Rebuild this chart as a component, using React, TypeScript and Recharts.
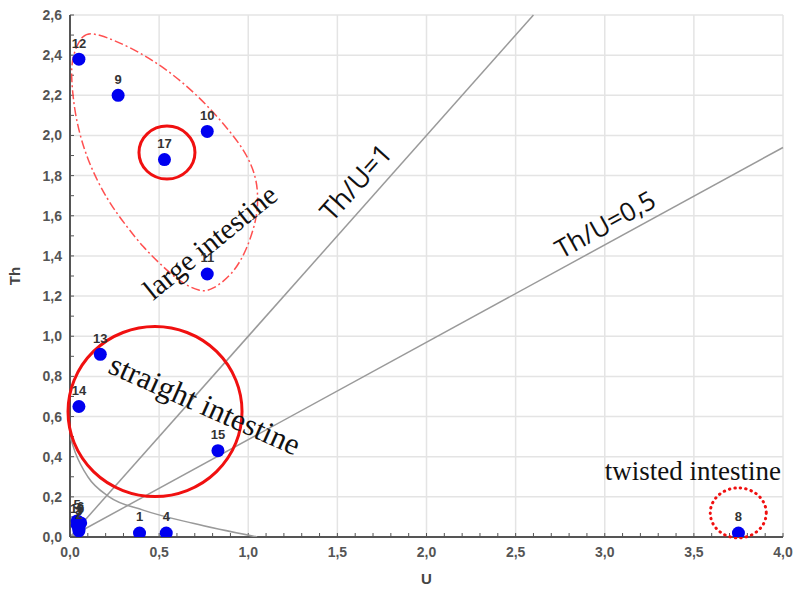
import { ScatterChart, Scatter, XAxis, YAxis, CartesianGrid, ReferenceLine, ReferenceDot, LabelList } from "recharts";

// sample numbers and their (U, Th) values
const sampleIds = ["1", "2", "3", "4", "5", "6", "7", "8", "9", "10", "11", "12", "13", "14", "15", "16", "17"];
const uValues = [0.39, 0.05, 0.05, 0.54, 0.04, 0.06, 0.05, 3.75, 0.27, 0.77, 0.77, 0.05, 0.17, 0.05, 0.83, 0.04, 0.53];
const thValues = [0.02, 0.03, 0.05, 0.02, 0.08, 0.07, 0.04, 0.02, 2.2, 2.02, 1.31, 2.38, 0.91, 0.65, 0.43, 0.06, 1.88];

// axis ticks
const majorU = [0, 0.5, 1, 1.5, 2, 2.5, 3, 3.5, 4];
const minorU = [0, 0.1, 0.2, 0.3, 0.4, 0.5, 0.6, 0.7, 0.8, 0.9, 1, 1.1, 1.2, 1.3, 1.4, 1.5, 1.6, 1.7, 1.8, 1.9, 2, 2.1, 2.2, 2.3, 2.4, 2.5, 2.6, 2.7, 2.8, 2.9, 3, 3.1, 3.2, 3.3, 3.4, 3.5, 3.6, 3.7, 3.8, 3.9, 4];
const majorTh = [0, 0.2, 0.4, 0.6, 0.8, 1, 1.2, 1.4, 1.6, 1.8, 2, 2.2, 2.4, 2.6];
const minorTh = [0, 0.1, 0.2, 0.3, 0.4, 0.5, 0.6, 0.7, 0.8, 0.9, 1, 1.1, 1.2, 1.3, 1.4, 1.5, 1.6, 1.7, 1.8, 1.9, 2, 2.1, 2.2, 2.3, 2.4, 2.5, 2.6];

// hand-drawn outline around the large intestine group
const outlineU = [0.011, 0.067, 0.151, 0.353, 0.544, 0.729, 0.88, 0.993, 1.049, 1.054, 1.049, 0.993, 0.914, 0.8, 0.729, 0.617, 0.505, 0.41, 0.32, 0.208, 0.095, 0.028, 0.006];
const outlineTh = [2.39, 2.51, 2.51, 2.435, 2.33, 2.19, 2.04, 1.91, 1.78, 1.68, 1.59, 1.43, 1.31, 1.23, 1.22, 1.27, 1.36, 1.444, 1.544, 1.678, 1.877, 2.09, 2.29];

// grey boundary curve near the origin
const curveU = [0, 0.03, 0.1, 0.22, 0.41, 0.69, 1.05];
const curveTh = [0.5, 0.42, 0.3, 0.2, 0.134, 0.068, 0];

// ratio lines
const ratioOne = [{ x: 0, y: 0 }, { x: 2.6, y: 2.6 }];
const ratioHalf = [{ x: 0, y: 0 }, { x: 4, y: 1.94 }];

const points = sampleIds.map((id, i) => ({ id, u: uValues[i], th: thValues[i] }));
const outline = outlineU.map((u, i) => ({ u, th: outlineTh[i] }));
const curve = curveU.map((u, i) => ({ u, th: curveTh[i] }));

const fmt = (v: number) => v.toFixed(1).replace(".", ",");

const tickStyle = { fill: "#555", fontSize: 14, fontWeight: "bold", fontFamily: "Liberation Sans, Arial, sans-serif" };

type Note = { text: string; u: number; th: number; angle: number; size: number; family: string };
const notes: Note[] = [
  { text: "large intestine", u: 0.785, th: 1.47, angle: -39, size: 29, family: "Liberation Serif, serif" },
  { text: "straight intestine", u: 0.757, th: 0.66, angle: 24, size: 31, family: "Liberation Serif, serif" },
  { text: "twisted intestine", u: 3.494, th: 0.33, angle: 0, size: 27, family: "Liberation Serif, serif" },
  { text: "Th/U=1", u: 1.6, th: 1.77, angle: -48, size: 27, family: "Open Sans, sans-serif" },
  { text: "Th/U=0,5", u: 3.0, th: 1.56, angle: -29, size: 26, family: "Open Sans, sans-serif" },
];

const noteShape = (n: Note) => (p: any) => (
  <text
    x={p.cx}
    y={p.cy}
    transform={`rotate(${n.angle} ${p.cx} ${p.cy})`}
    textAnchor="middle"
    dominantBaseline="central"
    fontFamily={n.family}
    fontSize={n.size}
    fill="#111"
  >
    {n.text}
  </text>
);

const ellipseShape = (rx: number, ry: number, dash?: string) => (p: any) => (
  <ellipse cx={p.cx} cy={p.cy} rx={rx} ry={ry} fill="none" stroke="#f01010" strokeWidth={3} strokeDasharray={dash} strokeLinecap="round" />
);

const empty = () => <g />;
const dot = (p: any) => <circle cx={p.cx} cy={p.cy} r={6.5} fill="#0000f0" />;

export default function App() {
  return (
    <div style={{ position: "absolute", left: 0, top: 0, width: 796, height: 592, background: "#fff" }}>
      <ScatterChart width={796} height={592} margin={{ top: 15, right: 13, bottom: 0, left: 0 }}>
        <CartesianGrid stroke="#e4e4e4" strokeWidth={1.5} verticalValues={majorU} horizontalValues={majorTh} />
        <XAxis
          type="number"
          dataKey="u"
          domain={[0, 4]}
          ticks={minorU}
          interval={0}
          allowDataOverflow
          height={55}
          tickSize={-4}
          tickMargin={14}
          tickFormatter={(v: number) => (majorU.includes(v) ? fmt(v) : "")}
          tick={tickStyle}
          axisLine={{ stroke: "#555", strokeWidth: 2 }}
          tickLine={{ stroke: "#555" }}
          label={{ value: "U", position: "insideBottom", offset: 8, fill: "#444", fontSize: 15, fontWeight: "bold", fontFamily: "Liberation Sans, Arial, sans-serif" }}
        />
        <XAxis
          xAxisId="top"
          orientation="top"
          type="number"
          dataKey="u"
          domain={[0, 4]}
          ticks={minorU}
          interval={0}
          allowDataOverflow
          height={0}
          tickSize={-4}
          tickFormatter={() => ""}
          axisLine={{ stroke: "#555", strokeWidth: 2 }}
          tickLine={{ stroke: "#555" }}
        />
        <YAxis
          type="number"
          dataKey="th"
          domain={[0, 2.6]}
          ticks={minorTh}
          interval={0}
          allowDataOverflow
          width={70}
          tickSize={-4}
          tickMargin={12}
          tickFormatter={(v: number) => (majorTh.includes(v) ? fmt(v) : "")}
          tick={tickStyle}
          axisLine={{ stroke: "#555", strokeWidth: 2 }}
          tickLine={{ stroke: "#555" }}
          label={{
            value: "Th",
            content: (p: any) => {
              const vb = p.viewBox;
              const cx = vb.x + 14;
              const cy = vb.y + vb.height / 2;
              return (
                <text x={cx} y={cy} transform={`rotate(-90 ${cx} ${cy})`} textAnchor="middle" dominantBaseline="central" fill="#444" fontSize={15} fontWeight="bold" fontFamily="Liberation Sans, Arial, sans-serif">
                  Th
                </text>
              );
            },
          }}
        />
        <YAxis
          yAxisId="right"
          orientation="right"
          type="number"
          domain={[0, 2.6]}
          ticks={minorTh}
          interval={0}
          allowDataOverflow
          width={0}
          tickSize={-4}
          tickFormatter={() => ""}
          axisLine={{ stroke: "#555", strokeWidth: 2 }}
          tickLine={{ stroke: "#555" }}
        />

        <ReferenceLine segment={ratioOne} stroke="#9a9a9a" strokeWidth={1.5} />
        <ReferenceLine segment={ratioHalf} stroke="#9a9a9a" strokeWidth={1.5} />

        <Scatter data={curve} fill="#9a9a9a" line={{ stroke: "#9a9a9a", strokeWidth: 1.5 }} lineJointType="monotoneX" shape={empty} isAnimationActive={false} />
        <Scatter
          data={outline}
          fill="#ff5050"
          line={{ stroke: "#ff5050", strokeWidth: 1.5, strokeDasharray: "9 3 2 3" }}
          lineJointType="basisClosed"
          shape={empty}
          isAnimationActive={false}
        />

        <ReferenceDot x={0.477} y={0.625} r={0} shape={ellipseShape(87, 85)} />
        <ReferenceDot x={0.544} y={1.915} r={0} shape={ellipseShape(28, 26.5)} />
        <ReferenceDot x={3.749} y={0.12} r={0} shape={ellipseShape(28, 25, "0.5 5")} />

        <Scatter data={points} fill="#0000f0" shape={dot} isAnimationActive={false}>
          <LabelList dataKey="id" position="top" offset={7} fill="#333" fontSize={13} fontFamily="Liberation Sans, Arial, sans-serif" fontWeight="bold" />
        </Scatter>

        {notes.map((n) => (
          <ReferenceDot key={n.text} x={n.u} y={n.th} r={0} shape={noteShape(n)} />
        ))}
      </ScatterChart>
    </div>
  );
}
